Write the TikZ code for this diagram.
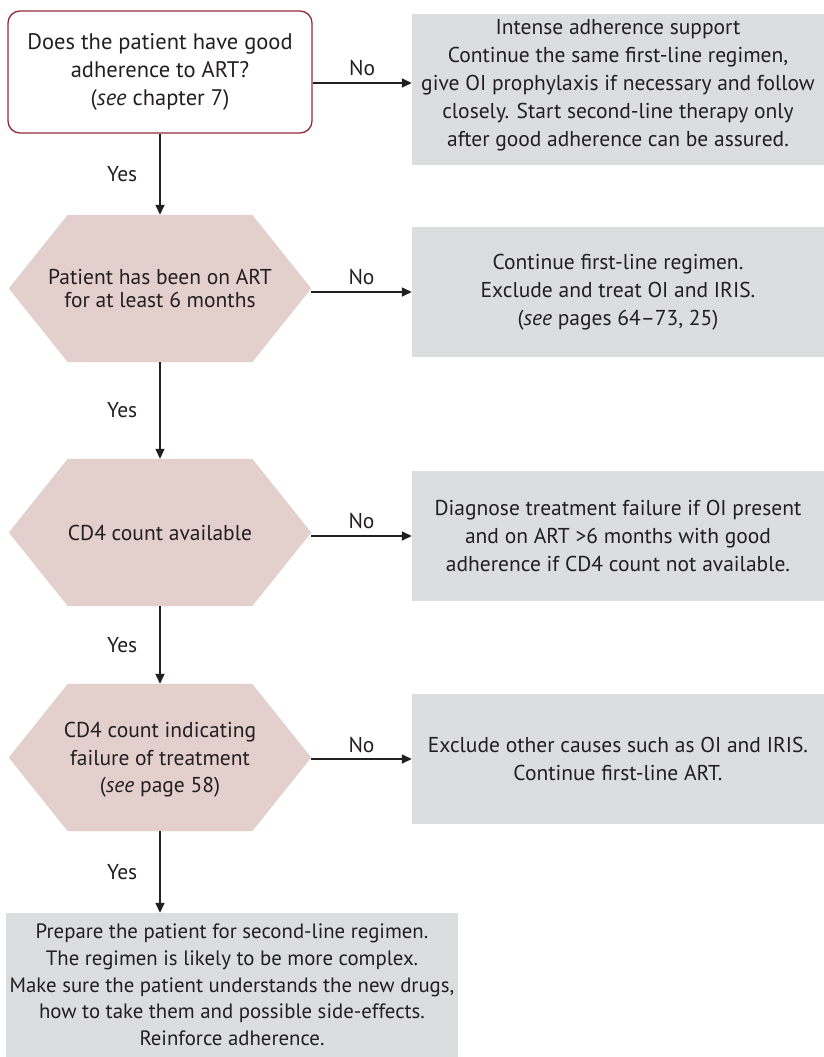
\documentclass[tikz,border=0pt]{standalone}
\usepackage{fontspec}
\setmainfont{PT Sans}
\usetikzlibrary{arrows.meta,backgrounds}
\definecolor{ink}{HTML}{231F20}
\definecolor{hexpink}{HTML}{E3CFCB}
\definecolor{boxgrey}{HTML}{DCDDDF}
\definecolor{framered}{HTML}{962B3D}
\begin{document}
\begin{tikzpicture}[x=1pt,y=-1pt,
  every node/.style={text=ink, font=\fontsize{21.5}{28}\selectfont, align=center, inner sep=0pt},
  question/.style={draw=framered, line width=1.3pt, rounded corners=12pt,
                   minimum width=304pt, minimum height=122pt},
  hexnode/.style={minimum width=302pt, minimum height=147pt},
  action/.style={fill=boxgrey, minimum width=412pt, minimum height=130pt},
  arr/.style={draw=ink, line width=1.5pt, -{Triangle[length=10pt,width=9pt]}},
  nolbl/.style={midway, above=6pt},
  yeslbl/.style={midway, left=22pt}
]
\path[use as bounding box] (0,0) rectangle (824,1057);

% decision column
\node[question, font=\fontsize{22.5}{28}\selectfont] (q1) at (160,72)
  {Does the patient have good\\adherence to ART?\\(\textit{see} chapter 7)};
\node[hexnode, font=\fontsize{21.5}{22.5}\selectfont] (h1) at (160,288.5)
  {Patient has been on ART\\for at least 6 months};
\node[hexnode] (h2) at (160,532.5) {CD4 count available};
\node[hexnode, font=\fontsize{21.5}{27.5}\selectfont, text depth=-13pt] (h3) at (160,757.5)
  {CD4 count indicating\\failure of treatment\\(\textit{see} page 58)};

% hexagon fills behind the decision texts
\begin{scope}[on background layer]
  \foreach \n in {h1,h2,h3}
    \fill[hexpink] (\n.west) -- ([xshift=59pt]\n.north west) -- ([xshift=-59pt]\n.north east)
      -- (\n.east) -- ([xshift=-59pt]\n.south east) -- ([xshift=59pt]\n.south west) -- cycle;
\end{scope}

% action boxes
\node[action, minimum height=151pt, text depth=14pt] (a1) at (618,89.5)
  {Intense adherence support\\Continue the same first-line regimen,\\give OI prophylaxis if necessary and follow\\closely. Start second-line therapy only\\after good adherence can be assured.};
\node[action] (a2) at (618,292)
  {Continue first-line regimen.\\Exclude and treat OI and IRIS.\\(\textit{see} pages 64--73, 25)};
\node[action] (a3) at (618,536)
  {Diagnose treatment failure if OI present\\and on ART >6 months with good\\adherence if CD4 count not available.};
\node[action] (a4) at (618,759)
  {Exclude other causes such as OI and IRIS.\\Continue first-line ART.};
\node[fill=boxgrey, minimum width=452pt, minimum height=144pt,
      font=\fontsize{20.8}{26.7}\selectfont] (fin) at (232,985)
  {Prepare the patient for second-line regimen.\\The regimen is likely to be more complex.\\Make sure the patient understands the new drugs,\\how to take them and possible side-effects.\\Reinforce adherence.};

% "No" branches
\draw[arr] ([yshift=-11pt]q1.east) -- ([yshift=-11pt]q1.east -| a1.west) node[nolbl] {No};
\draw[arr] (h1.east |- a2.west) -- (a2.west) node[nolbl] {No};
\draw[arr] (h2.east |- a3.west) -- (a3.west) node[nolbl] {No};
\draw[arr] (h3.east |- a4.west) -- (a4.west) node[nolbl] {No};

% "Yes" branches
\draw[arr] (q1.south) -- (h1.north) node[yeslbl] {Yes};
\draw[arr] (h1.south) -- (h2.north) node[yeslbl] {Yes};
\draw[arr] (h2.south) -- (h3.north) node[yeslbl] {Yes};
\draw[arr] (h3.south) -- (h3.south |- fin.north) node[yeslbl] {Yes};
\end{tikzpicture}
\end{document}
